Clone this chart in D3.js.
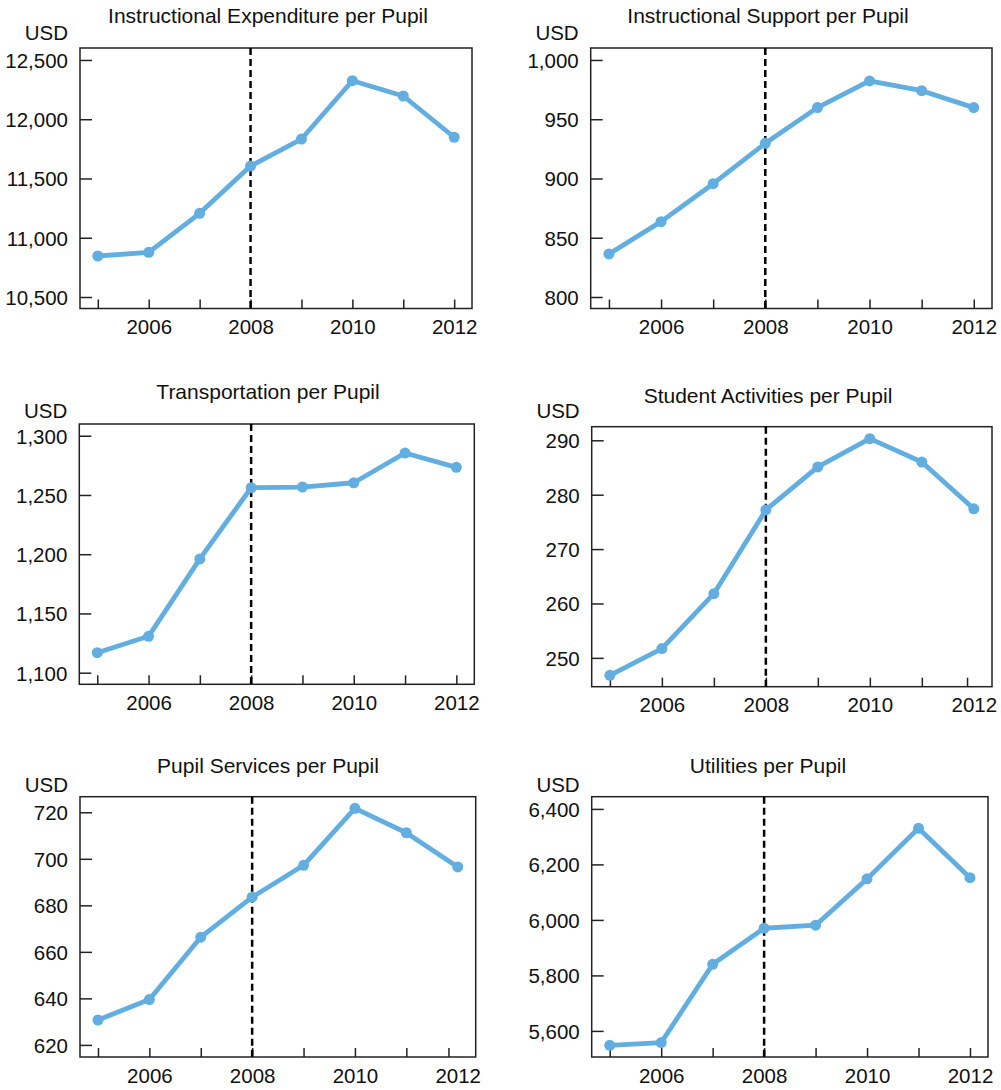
<!DOCTYPE html>
<html>
<head>
<meta charset="utf-8">
<script src="https://cdn.jsdelivr.net/npm/d3@7"></script>
<style>
  body { margin: 0; background: #fff; }
  svg text { font-family: 'Liberation Sans', Arial, sans-serif; fill: #111; }
  .tick text { font-size: 20.5px; }
  .title { font-size: 21px; }
  .unit { font-size: 20.5px; }
</style>
</head>
<body>
<div id="container"></div>
<script>
const w = 1001,
  h = 1090;

const years = [2005, 2006, 2007, 2008, 2009, 2010, 2011, 2012];

const titles = [
  'Instructional Expenditure per Pupil',
  'Instructional Support per Pupil',
  'Transportation per Pupil',
  'Student Activities per Pupil',
  'Pupil Services per Pupil',
  'Utilities per Pupil'
];

const instructionalExp = [10846, 10877, 11206, 11605, 11833, 12325, 12196, 11848];
const instructionalSup = [836.3, 863.6, 895.6, 929.7, 959.8, 982.3, 974.1, 959.8];
const transportation = [1116.9, 1130.7, 1196, 1256.1, 1256.7, 1260.3, 1285.4, 1273.3];
const studentActivities = [246.8, 251.7, 261.8, 277.2, 285.1, 290.3, 286.0, 277.4];
const pupilServices = [630.7, 639.5, 666.3, 683.5, 697.2, 721.7, 711.2, 696.5];
const utilities = [5548, 5558, 5840, 5970, 5981, 6148, 6330, 6152];

const yTicks1 = [10500, 11000, 11500, 12000, 12500];
const yTicks2 = [800, 850, 900, 950, 1000];
const yTicks3 = [1100, 1150, 1200, 1250, 1300];
const yTicks4 = [250, 260, 270, 280, 290];
const yTicks5 = [620, 640, 660, 680, 700, 720];
const yTicks6 = [5600, 5800, 6000, 6200, 6400];

const breakYear = 2008;
const unit = 'USD';

// frame boxes, y domains and small layout tweaks for each panel
const panels = [
  { values: instructionalExp, ticks: yTicks1, yDomain: [10403, 12601],
    x0: 80, x1: 472, y0: 48, y1: 308.5, titleY: 23, unitY: 40, cx: 268, lastShift: 0 },
  { values: instructionalSup, ticks: yTicks2, yDomain: [790.3, 1010.1],
    x0: 590.7, x1: 992, y0: 48, y1: 308.5, titleY: 23, unitY: 40, cx: 768, lastShift: 0 },
  { values: transportation, ticks: yTicks3, yDomain: [1090.2, 1309.9],
    x0: 79.3, x1: 474.3, y0: 424, y1: 684.3, titleY: 399, unitY: 418, cx: 268, lastShift: 0 },
  { values: studentActivities, ticks: yTicks4, yDomain: [244.7, 292.5],
    x0: 591.7, x1: 992, y0: 426.7, y1: 686.7, titleY: 403, unitY: 418, cx: 768, lastShift: -0.13 },
  { values: pupilServices, ticks: yTicks5, yDomain: [614.8, 726.7],
    x0: 80, x1: 475.7, y0: 796.7, y1: 1057, titleY: 773, unitY: 791.5, cx: 268, lastShift: -0.18 },
  { values: utilities, ticks: yTicks6, yDomain: [5506, 6444],
    x0: 591.7, x1: 988, y0: 796.7, y1: 1057, titleY: 773, unitY: 791.5, cx: 768, lastShift: 0 }
];

const lineColor = '#62aee1';

const svg = d3
  .select('#container')
  .append('svg')
  .attr('width', w)
  .attr('height', h);

panels.forEach((p, k) => {
  const xScale = d3
    .scaleLinear()
    .domain([2004.65, 2012.35])
    .range([p.x0, p.x1]);
  const yScale = d3.scaleLinear().domain(p.yDomain).range([p.y1, p.y0]);

  const g = svg.append('g').attr('class', 'panel');

  // title and unit label
  g.append('text')
    .attr('class', 'title')
    .attr('x', p.cx)
    .attr('y', p.titleY)
    .attr('text-anchor', 'middle')
    .text(titles[k]);
  g.append('text')
    .attr('class', 'unit')
    .attr('x', p.x0 - 12)
    .attr('y', p.unitY)
    .attr('text-anchor', 'end')
    .text(unit);

  // y axis, ticks pointing inward
  const yAxis = d3
    .axisLeft(yScale)
    .tickValues(p.ticks)
    .tickSizeInner(-12)
    .tickSizeOuter(0)
    .tickPadding(12)
    .tickFormat(d3.format(','));
  const ya = g
    .append('g')
    .attr('transform', 'translate(' + p.x0 + ',0)')
    .call(yAxis);
  ya.select('.domain').remove();
  ya.selectAll('line').attr('stroke', '#222').attr('stroke-width', 1.5);
  ya.selectAll('text').attr('dy', '0.36em');

  // x axis, every year ticked, even years labelled
  const xAxis = d3
    .axisBottom(xScale)
    .tickValues(years)
    .tickSizeInner(-9)
    .tickSizeOuter(0)
    .tickPadding(11)
    .tickFormat((d) => (d % 2 === 0 ? d : ''));
  const xa = g
    .append('g')
    .attr('transform', 'translate(0,' + p.y1 + ')')
    .call(xAxis);
  xa.select('.domain').remove();
  xa.selectAll('line').attr('stroke', '#222').attr('stroke-width', 1.5);
  if (p.lastShift !== 0) {
    const shift = xScale(2012 + p.lastShift) - xScale(2012);
    xa.selectAll('.tick')
      .filter((d) => d === 2012)
      .select('line')
      .attr('transform', 'translate(' + shift + ',0)');
  }

  // frame
  g.append('rect')
    .attr('x', p.x0)
    .attr('y', p.y0)
    .attr('width', p.x1 - p.x0)
    .attr('height', p.y1 - p.y0)
    .attr('fill', 'none')
    .attr('stroke', '#222')
    .attr('stroke-width', 1.5);

  // dashed marker at 2008
  g.append('line')
    .attr('x1', xScale(breakYear))
    .attr('x2', xScale(breakYear))
    .attr('y1', p.y0)
    .attr('y2', p.y1)
    .attr('stroke', '#000')
    .attr('stroke-width', 2.5)
    .attr('stroke-dasharray', '7,4');

  const line = d3
    .line()
    .x((d, i) => xScale(years[i]))
    .y((d) => yScale(d));

  g.append('path')
    .datum(p.values)
    .attr('d', line)
    .attr('fill', 'none')
    .attr('stroke', lineColor)
    .attr('stroke-width', 4.8)
    .attr('stroke-linejoin', 'round');

  g.selectAll('circle')
    .data(p.values)
    .enter()
    .append('circle')
    .attr('cx', (d, i) => xScale(years[i]))
    .attr('cy', (d) => yScale(d))
    .attr('r', 5.5)
    .attr('fill', lineColor);
});
</script>
</body>
</html>
